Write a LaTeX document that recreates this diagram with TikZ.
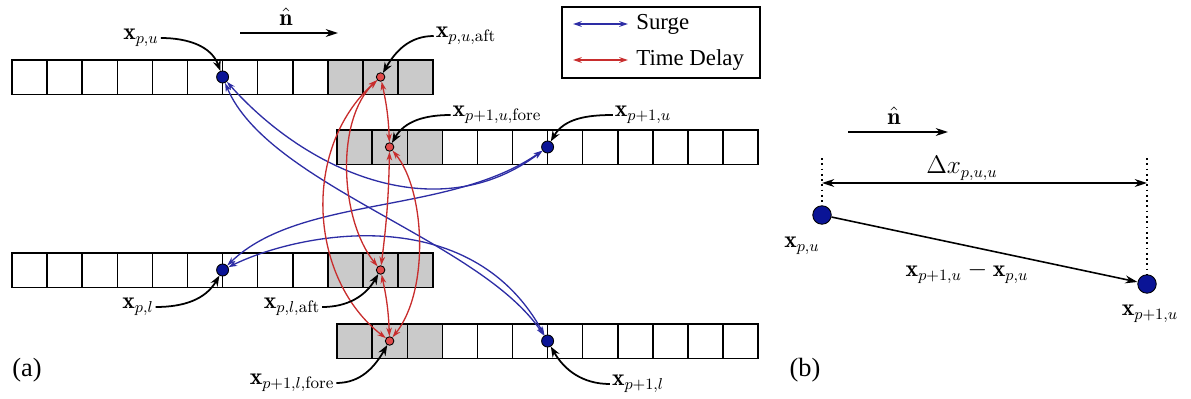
\documentclass[tikz,border=0pt]{standalone}
\usepackage{amsmath,amssymb}
\usepackage{fontspec}
\newfontfamily\legendfont{Liberation Serif}
\usetikzlibrary{arrows.meta}

\definecolor{surgeblue}{RGB}{45,45,165}
\definecolor{delayred}{RGB}{200,45,45}
\definecolor{dotblue}{RGB}{10,20,150}
\definecolor{dotred}{RGB}{225,75,75}
\definecolor{cellgray}{RGB}{202,202,202}

\tikzset{
  cellbox/.style={draw, line width=0.8pt},
  bdot/.style={circle, draw, fill=dotblue, inner sep=0pt, minimum size=0.24cm, line width=0.5pt},
  rdot/.style={circle, draw, fill=dotred, inner sep=0pt, minimum size=0.17cm, line width=0.5pt},
  bigdot/.style={circle, draw, fill=dotblue, inner sep=0pt, minimum size=0.37cm, line width=0.5pt},
  surge/.style={draw=surgeblue, line width=0.75pt, {Stealth[length=5pt,width=3.2pt]}-{Stealth[length=5pt,width=3.2pt]}},
  delay/.style={draw=delayred, line width=0.75pt, {Stealth[length=5pt,width=3.2pt]}-{Stealth[length=5pt,width=3.2pt]}},
  lab/.style={line width=1pt, -{Stealth[length=6pt,width=4.5pt]}},
  mlab/.style={font=\fontsize{13.5}{16}\selectfont, inner sep=1pt},
}

\begin{document}
\begin{tikzpicture}[x=0.02cm, y=-0.02cm]
\useasboundingbox (0,0) rectangle (1191,399);

% cell strips
\foreach \x/\y/\g in {12/60/9, 337/130/0, 12/253/9, 337/324/0} {
  \fill[cellgray] ({\x+35.1*\g},\y) rectangle ++(105.3,34.5);
  \foreach \i in {0,...,11}
    \draw[cellbox] ({\x+35.1*\i},\y) rectangle ++(35.1,34.5);
  \draw[line width=1.1pt] (\x,\y) rectangle ++(421.2,34.5);
}

% points
\node[bdot] (pu) at (222.6,77) {};
\node[rdot] (pua) at (380.6,77) {};
\node[bdot] (pu1) at (547.6,147) {};
\node[rdot] (pu1f) at (389.6,147) {};
\node[bdot] (pl) at (222.6,270) {};
\node[rdot] (pla) at (380.6,270) {};
\node[bdot] (pl1) at (547.6,341) {};
\node[rdot] (pl1f) at (389.6,341) {};

% surge
\draw[surge] (pu) .. controls (310,175) and (440,228) .. (pu1);
\draw[surge] (pu) .. controls (268,185) and (480,240) .. (pl1);
\draw[surge] (pl) .. controls (300,195) and (450,215) .. (pu1);
\draw[surge] (pl) .. controls (300,232) and (470,200) .. (pl1);

% time delay
\draw[delay] (pua) to[bend left=5] (pu1f);
\draw[delay] (pua) .. controls (335,120) and (340,220) .. (pla);
\draw[delay] (pua) .. controls (300,150) and (310,280) .. (pl1f);
\draw[delay] (pu1f) to[bend left=3] (pla);
\draw[delay] (pu1f) .. controls (425,190) and (430,290) .. (pl1f);
\draw[delay] (pla) to[bend left=5] (pl1f);

% labels
\node[mlab] (pulab) at (141,38) {$\mathbf{x}_{p,u}$};
\node[mlab] (pualab) at (466,36) {$\mathbf{x}_{p,u,\mathrm{aft}}$};
\node[mlab] (pu1flab) at (497,115) {$\mathbf{x}_{p+1,u,\mathrm{fore}}$};
\node[mlab] (pu1lab) at (643,115) {$\mathbf{x}_{p+1,u}$};
\node[mlab] (pllab) at (138,307) {$\mathbf{x}_{p,l}$};
\node[mlab] (plalab) at (292,307) {$\mathbf{x}_{p,l,\mathrm{aft}}$};
\node[mlab] (pl1flab) at (292,383) {$\mathbf{x}_{p+1,l,\mathrm{fore}}$};
\node[mlab] (pl1lab) at (638,384) {$\mathbf{x}_{p+1,l}$};

\draw[lab] (pulab.east) to[out=0,in=110] (pu);
\draw[lab] (pualab.west) to[out=180,in=60] (pua);
\draw[lab] (pu1flab.west) to[out=180,in=60] (pu1f);
\draw[lab] (pu1lab.west) to[out=180,in=60] (pu1);
\draw[lab] (pllab.east) to[out=0,in=240] (pl);
\draw[lab] (plalab.east) to[out=0,in=240] (pla);
\draw[lab] (pl1flab.east) to[out=0,in=240] (pl1f);
\draw[lab] (pl1lab.west) to[out=180,in=300] (pl1);

% direction
\coordinate (na) at (240,33);
\coordinate (nb) at (338,33);
\draw[line width=0.9pt, -{Stealth[length=7pt,width=4.5pt]}] (na) -- (nb);
\node[mlab] (nlab) at (286,17) {$\hat{\mathbf{n}}$};

% legend
\node[draw, line width=0.6pt, minimum width=3.96cm, minimum height=1.42cm] (legbox) at (661,42.5) {};
\coordinate (sga) at (573,24);
\coordinate (sgb) at (628,24);
\coordinate (tda) at (573,60);
\coordinate (tdb) at (628,60);
\draw[surge] (sga) -- (sgb);
\draw[delay] (tda) -- (tdb);
\node[anchor=west, font=\legendfont\fontsize{13}{15}\selectfont, inner sep=0pt] (sglab) at (636,24) {Surge};
\node[anchor=west, font=\legendfont\fontsize{13}{15}\selectfont, inner sep=0pt] (tdlab) at (636,60) {Time Delay};

\node[font=\legendfont\fontsize{15}{17}\selectfont] (alab) at (27,370) {(a)};

% panel b
\node[font=\legendfont\fontsize{15}{17}\selectfont] (blab) at (805,370) {(b)};
\coordinate (bna) at (848,132);
\coordinate (bnb) at (948,132);
\draw[line width=0.9pt, -{Stealth[length=7pt,width=4.5pt]}] (bna) -- (bnb);
\node[mlab] (bnlab) at (894,116) {$\hat{\mathbf{n}}$};

\node[bigdot] (bu) at (822,215) {};
\node[bigdot] (bu1) at (1147,284) {};
\coordinate (bul) at (822,158);
\coordinate (bur) at (1147,158);
\draw[dotted, line width=1pt] (bul) -- (bu.north);
\draw[dotted, line width=1pt] (bur) -- (bu1.north);
\coordinate (dxl) at (822,183);
\coordinate (dxr) at (1147,183);
\draw[line width=0.9pt, {Stealth[length=7pt,width=4.5pt]}-{Stealth[length=7pt,width=4.5pt]}] (dxl) -- (dxr);
\node[mlab] (dxlab) at (962,168) {$\Delta x_{p,u,u}$};
\draw[line width=0.9pt, -{Stealth[length=7pt,width=4.5pt]}] (bu) -- (bu1);
\node[mlab] (bulab) at (802,246) {$\mathbf{x}_{p,u}$};
\node[mlab] (difflab) at (967,273) {$\mathbf{x}_{p+1,u}-\mathbf{x}_{p,u}$};
\node[mlab] (bu1lab) at (1150,314) {$\mathbf{x}_{p+1,u}$};
\end{tikzpicture}
\end{document}
